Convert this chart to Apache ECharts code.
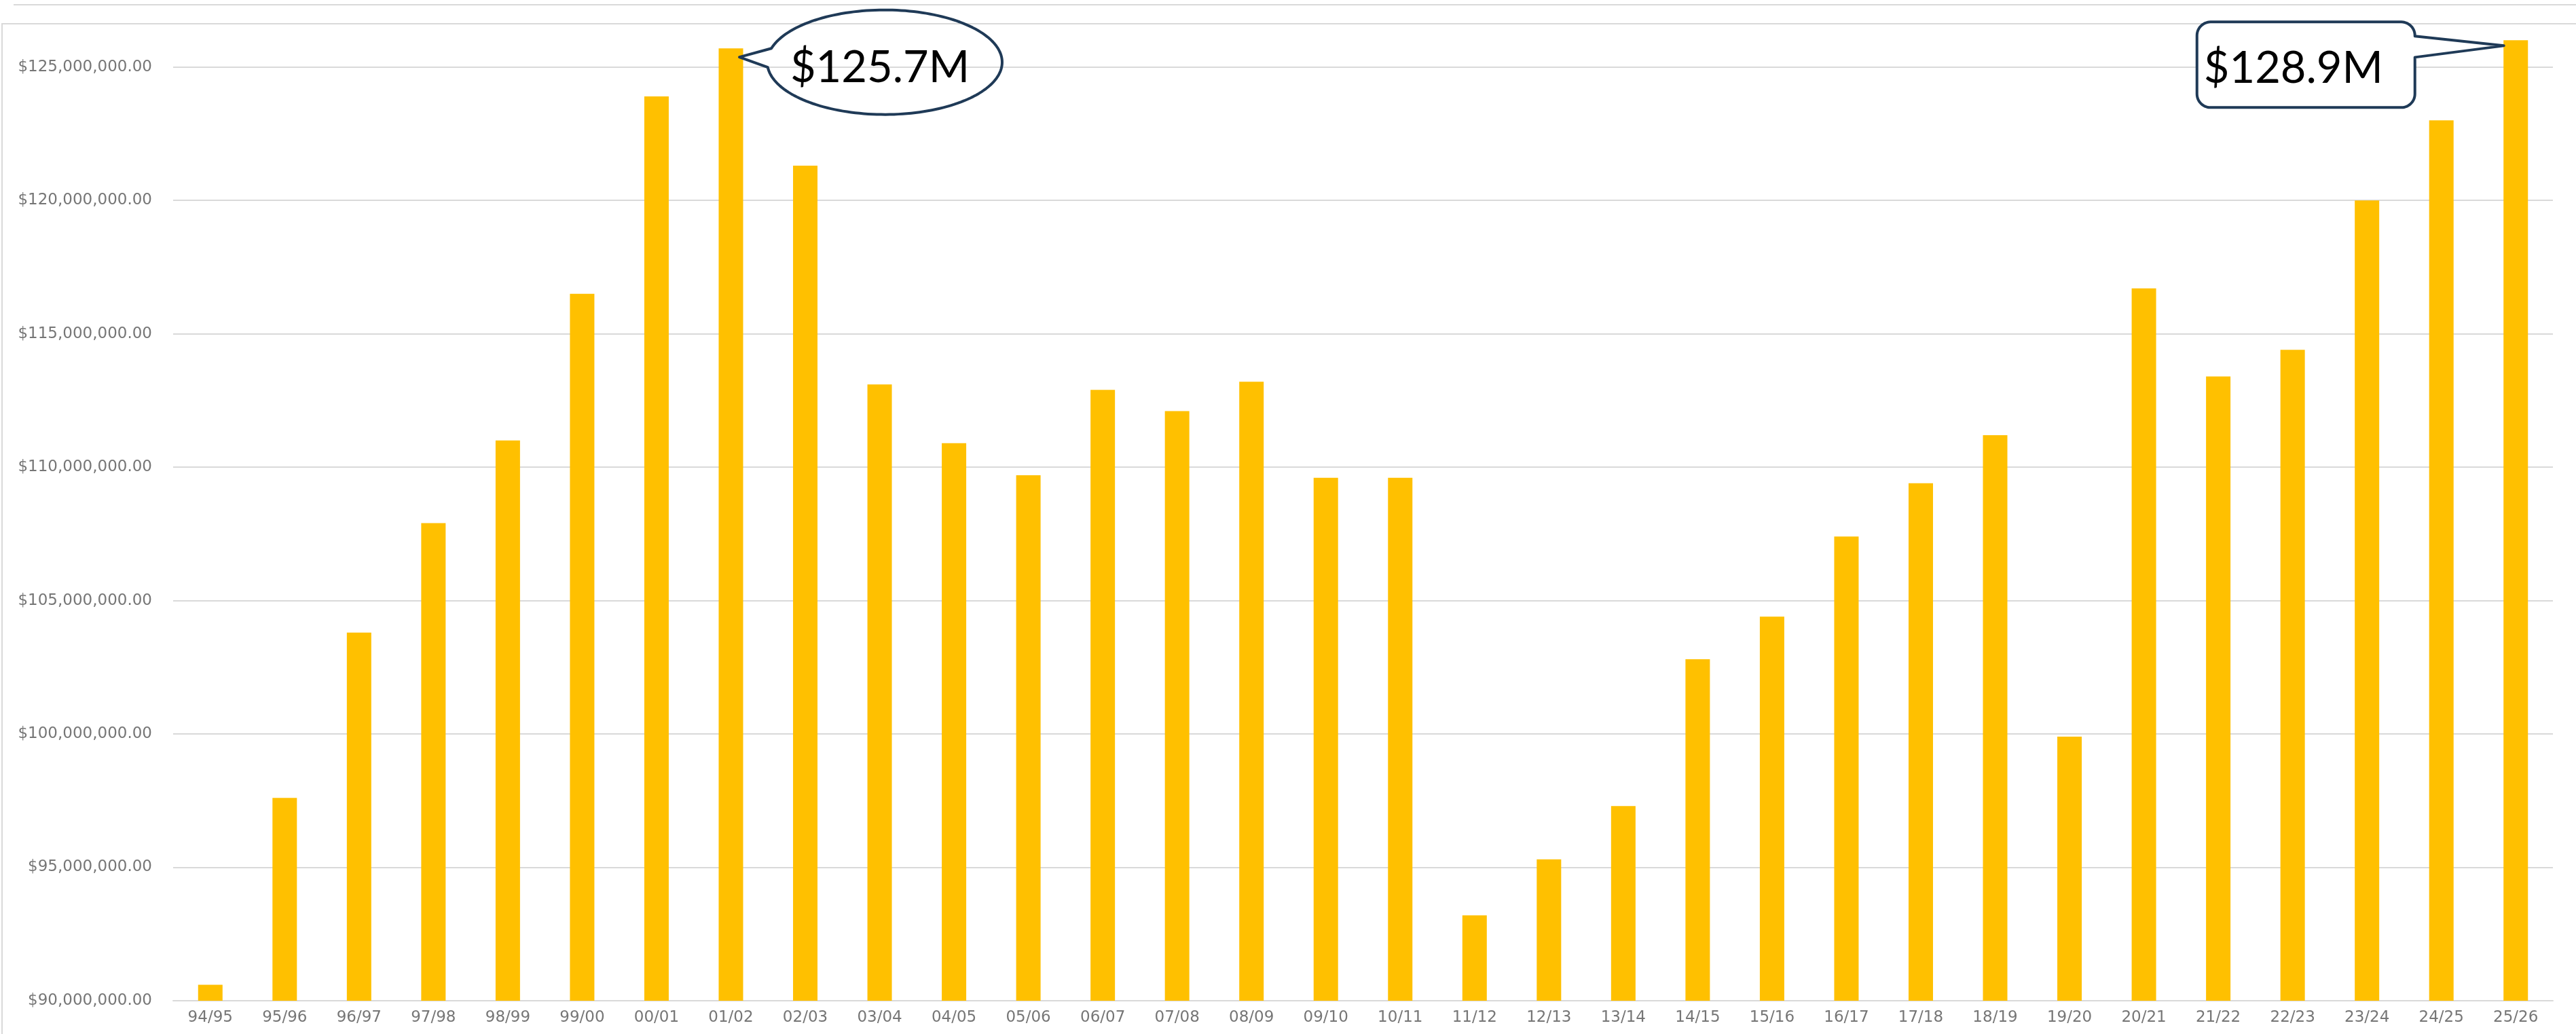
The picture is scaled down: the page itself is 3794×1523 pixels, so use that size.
<!DOCTYPE html>
<html>
<head>
<meta charset="utf-8">
<title>Funding by year</title>
<script src="https://cdn.jsdelivr.net/npm/echarts@6/dist/echarts.min.js"></script>
<style>
  html, body { margin: 0; padding: 0; background: #fff; }
  #main { width: 3794px; height: 1523px; }
</style>
</head>
<body>
<div id="main"></div>
<script>
// fiscal years on the x axis
const years = [
  '94/95', '95/96', '96/97', '97/98', '98/99', '99/00', '00/01', '01/02',
  '02/03', '03/04', '04/05', '05/06', '06/07', '07/08', '08/09', '09/10',
  '10/11', '11/12', '12/13', '13/14', '14/15', '15/16', '16/17', '17/18',
  '18/19', '19/20', '20/21', '21/22', '22/23', '23/24', '24/25', '25/26'
]

// bar values in dollars
const funding = [
  90600000, 97600000, 103800000, 107900000, 111000000, 116500000, 123900000, 125700000,
  121300000, 113100000, 110900000, 109700000, 112900000, 112100000, 113200000, 109600000,
  109600000, 93200000, 95300000, 97300000, 102800000, 104400000, 107400000, 109400000,
  111200000, 99900000, 116700000, 113400000, 114400000, 120000000, 123000000, 126000000
]

// value axis
const yMin = 90000000
const yMax = 126620000
const yStep = 5000000

// the two speech-bubble notes
const noteYears = ['01/02', '25/26']
const noteTexts = ['$125.7M', '$128.9M']

const frameColor = '#d9d9d9'
const noteColor = '#1f3a57'

const chart = echarts.init(document.getElementById('main'))

const moneyLabel = v => {
  if (v % yStep !== 0) return ''
  return '$' + v.toLocaleString('en-US', {minimumFractionDigits: 2, maximumFractionDigits: 2})
}

chart.setOption({
  animation: false,
  backgroundColor: '#ffffff',
  grid: {left: 255, right: 34, top: 35, bottom: 49},
  xAxis: {
    type: 'category',
    data: years,
    axisLine: {lineStyle: {color: frameColor, width: 2}},
    axisTick: {show: false},
    axisLabel: {interval: 0, color: '#767676', fontFamily: 'DejaVu Sans', fontSize: 23, margin: 14}
  },
  yAxis: {
    type: 'value',
    min: yMin,
    max: yMax,
    interval: yStep,
    axisLine: {show: false},
    axisTick: {show: false},
    axisLabel: {formatter: moneyLabel, color: '#767676', fontFamily: 'DejaVu Sans', fontSize: 23, margin: 31},
    splitLine: {lineStyle: {color: frameColor, width: 2}}
  },
  series: [{
    type: 'bar',
    data: funding,
    barWidth: 36,
    itemStyle: {color: '#FFC000'}
  }]
})

// points of an arc, angles in degrees
function arcPts(cx, cy, rx, ry, a0, a1, n){
  let pts = []
  for(let i = 0; i <= n; i++){
    let a = (a0 + (a1 - a0) * i / n) * Math.PI / 180
    pts.push([cx + rx * Math.cos(a), cy + ry * Math.sin(a)])
  }
  return pts
}

// oval bubble, tail points left to the bar
function ovalBubble(tx, ty){
  let pts = [[tx, ty]]
  pts = pts.concat(arcPts(tx + 214, ty + 7.5, 173, 77, 195.4, 534.4, 160))
  return pts
}

// rounded box, tail points right to the bar
function boxBubble(tx, ty){
  let L = tx - 452, R = tx - 131, T = ty - 35, B = ty + 91, r = 20
  let pts = [[tx, ty], [R, ty - 14]]
  pts = pts.concat(arcPts(R - r, T + r, r, r, 0, -90, 12))
  pts = pts.concat(arcPts(L + r, T + r, r, r, 270, 180, 12))
  pts = pts.concat(arcPts(L + r, B - r, r, r, 180, 90, 12))
  pts = pts.concat(arcPts(R - r, B - r, r, r, 90, 0, 12))
  pts.push([R, ty + 17])
  return pts
}

const barTop = yr => {
  let i = years.indexOf(yr)
  return chart.convertToPixel({gridIndex: 0}, [i, funding[i]])
}

const p1 = barTop(noteYears[0])
const p2 = barTop(noteYears[1])
const t1 = [p1[0] + 12.5, p1[1] + 13]       // tip of first tail
const t2 = [p2[0] - 17.5, p2[1] + 8]        // tip of second tail

chart.setOption({
  graphic: [
    {type: 'line', z: 1, shape: {x1: 20, y1: 7, x2: 3794, y2: 7}, style: {stroke: frameColor, lineWidth: 2}},
    {type: 'polyline', z: 1, shape: {points: [[3, 1523], [3, 35], [3794, 35]]}, style: {stroke: frameColor, lineWidth: 2, fill: null}},
    {type: 'polygon', z: 100, shape: {points: ovalBubble(t1[0], t1[1])},
      style: {stroke: noteColor, lineWidth: 4, fill: 'rgba(0,0,0,0)', lineJoin: 'round'}},
    {type: 'text', z: 101, style: {text: noteTexts[0], x: t1[0] + 207, y: t1[1] + 16, fill: '#000',
      font: '65px Lato', align: 'center', verticalAlign: 'middle'}},
    {type: 'polygon', z: 100, shape: {points: boxBubble(t2[0], t2[1])},
      style: {stroke: noteColor, lineWidth: 4, fill: '#ffffff', lineJoin: 'round'}},
    {type: 'text', z: 101, style: {text: noteTexts[1], x: t2[0] - 442, y: t2[1] + 34, fill: '#000',
      font: '65px Lato', align: 'left', verticalAlign: 'middle'}}
  ]
})
</script>
</body>
</html>
